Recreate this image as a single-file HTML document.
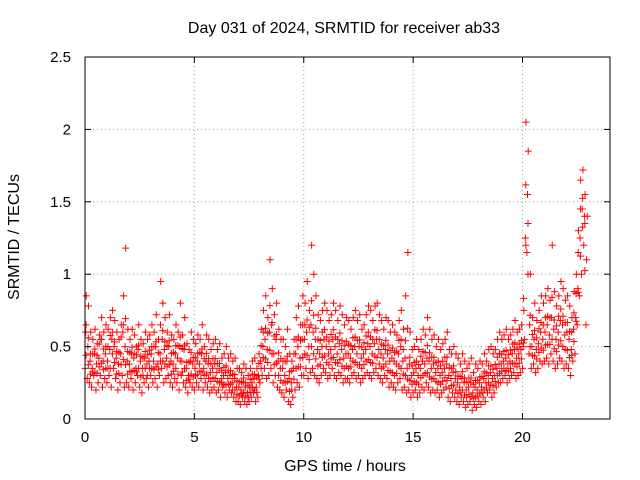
<!DOCTYPE html>
<html><head><meta charset="utf-8"><style>
body{margin:0;background:#fff;}
svg{display:block;font-family:"Liberation Sans",sans-serif;}
</style></head><body>
<svg id="chart" width="640" height="480" xmlns="http://www.w3.org/2000/svg">
<rect width="640" height="480" fill="#fff"/>
<g id="grid"></g>
<g id="pts"></g>
<rect x="85" y="57" width="525" height="362" fill="none" stroke="#000" stroke-width="1"/>
<g id="ticks" font-size="15" fill="#000"></g>
<text x="344" y="33" font-size="16" text-anchor="middle">Day 031 of 2024, SRMTID for receiver ab33</text>
<text x="345" y="471" font-size="16" text-anchor="middle">GPS time / hours</text>
<text x="0" y="0" font-size="16" text-anchor="middle" transform="translate(19,237) rotate(-90)">SRMTID / TECUs</text>
</svg>
<script>
const xTicks=[0,5,10,15,20];
const yTicks=[0,0.5,1,1.5,2,2.5];
const yTickLabels=["0","0.5","1","1.5","2","2.5"];
const tStart=0, tStep=0.1;
const sLow=[.35,.28,.25,.22,.30,.20,.25,.30,.22,.28,.25,.30,.22,.35,.28,.20,.25,.30,.22,.25,.22,.28,.20,.25,.30,.22,.18,.25,.28,.22,.30,.25,.28,.22,.30,.35,.25,.28,.30,.25,.22,.28,.25,.20,.30,.25,.22,.18,.25,.22,.20,.25,.22,.28,.20,.25,.22,.18,.20,.22,.18,.20,.15,.22,.18,.15,.20,.18,.15,.12,.12,.10,.15,.12,.10,.12,.15,.18,.12,.15,.25,.30,.35,.28,.30,.35,.25,.30,.22,.20,.18,.15,.20,.12,.10,.15,.20,.25,.22,.30,.30,.35,.28,.32,.35,.30,.28,.25,.30,.35,.32,.28,.30,.35,.30,.28,.32,.30,.25,.28,.28,.25,.30,.32,.28,.30,.25,.28,.30,.32,.30,.28,.32,.35,.30,.28,.25,.30,.28,.22,.25,.22,.20,.25,.28,.20,.22,.18,.20,.15,.18,.20,.15,.18,.22,.20,.25,.22,.18,.20,.18,.20,.15,.18,.20,.22,.15,.12,.18,.15,.12,.10,.15,.12,.08,.10,.12,.06,.10,.08,.12,.10,.15,.12,.18,.20,.15,.18,.22,.25,.25,.28,.30,.25,.28,.30,.32,.28,.30,.32,.35,.55,1.15,.45,.35,.38,.32,.35,.40,.38,.40,.42,.38,.45,.40,.35,.38,.42,.40,.35,.38,.35,.30,.40,.45,.65,.85,1.0,1.2,.65];
const sMid=[.60,.50,.40,.35,.45,.38,.42,.55,.40,.45,.40,.48,.55,.50,.42,.38,.45,.60,.50,.40,.38,.45,.42,.35,.48,.40,.35,.42,.38,.40,.45,.40,.50,.38,.45,.55,.48,.42,.50,.40,.38,.45,.42,.50,.40,.48,.35,.30,.40,.38,.35,.40,.38,.45,.35,.40,.38,.32,.35,.38,.32,.35,.28,.30,.32,.28,.30,.25,.28,.22,.22,.20,.25,.22,.18,.22,.25,.28,.22,.30,.40,.50,.55,.48,.60,.65,.45,.55,.40,.35,.35,.30,.40,.28,.25,.35,.45,.50,.42,.55,.55,.60,.50,.65,.60,.55,.48,.45,.50,.55,.50,.45,.48,.55,.50,.45,.52,.48,.42,.45,.45,.42,.48,.50,.45,.50,.42,.45,.48,.52,.50,.45,.52,.55,.48,.45,.42,.48,.45,.40,.42,.40,.38,.45,.50,.40,.42,.35,.38,.30,.32,.35,.30,.35,.40,.38,.42,.40,.35,.38,.32,.35,.30,.32,.35,.38,.30,.28,.32,.28,.25,.22,.28,.25,.20,.22,.25,.18,.22,.20,.25,.22,.28,.25,.30,.32,.28,.30,.35,.38,.38,.40,.42,.38,.40,.45,.48,.42,.45,.48,.50,1.25,1.55,.65,.50,.55,.48,.52,.60,.55,.60,.65,.58,.70,.62,.55,.60,.68,.65,.58,.60,.55,.48,.62,.70,.90,1.25,1.45,1.40,1.10];
const sHigh=[.85,.78,.60,.55,.62,.52,.58,.70,.60,.65,.62,.70,.75,.68,.60,.55,.65,.85,1.18,.62,.55,.62,.58,.50,.65,.55,.52,.60,.55,.58,.65,.60,.72,.55,.95,.80,.70,.60,.72,.58,.55,.65,.60,.80,.58,.70,.52,.48,.60,.55,.52,.58,.55,.65,.50,.58,.55,.48,.52,.55,.48,.52,.42,.45,.50,.42,.45,.40,.42,.35,.35,.32,.38,.35,.30,.35,.40,.42,.35,.45,.62,.75,.85,.70,1.10,.90,.72,.80,.62,.55,.55,.50,.62,.45,.40,.55,.70,.78,.65,.85,.80,.95,.75,1.20,1.00,.85,.72,.68,.75,.80,.75,.68,.72,.80,.75,.68,.78,.72,.65,.70,.68,.62,.70,.75,.68,.72,.62,.65,.72,.78,.75,.68,.78,.80,.72,.68,.62,.70,.68,.60,.65,.60,.58,.68,.75,.62,.85,1.15,.60,.48,.50,.55,.48,.55,.62,.58,.70,.62,.55,.58,.50,.55,.48,.52,.55,.60,.48,.45,.50,.45,.42,.38,.45,.40,.35,.38,.42,.32,.38,.35,.40,.38,.45,.40,.48,.50,.45,.48,.55,.60,.55,.58,.62,.55,.58,.62,.68,.60,.62,.65,.75,2.05,1.85,1.00,.70,.80,.68,.75,.85,.80,.85,.90,.82,1.20,.88,.78,.85,.95,.90,.82,.85,.78,.70,.88,1.00,1.30,1.65,1.72,1.55,1.40];
const NS="http://www.w3.org/2000/svg";
const X0=85,X1=610,Y0=419,Y1=57,XMAX=24,YMAX=2.5;
function xs(v){return X0+(X1-X0)*v/XMAX;}
function ys(v){return Y0-(Y0-Y1)*v/YMAX;}
function mk(tag,attrs,parent){const e=document.createElementNS(NS,tag);for(const k in attrs)e.setAttribute(k,attrs[k]);parent.appendChild(e);return e;}
const grid=document.getElementById('grid'),ticks=document.getElementById('ticks'),pts=document.getElementById('pts');
xTicks.forEach(v=>{const x=xs(v);
 if(v>0){const g=mk('line',{x1:x,y1:Y0,x2:x,y2:Y1,stroke:'#a0a0a0','stroke-dasharray':'1,3'},grid);
 
 }
 const t=mk('line',{x1:x,y1:Y0,x2:x,y2:Y0-6,stroke:'#000'},ticks);
 
 
 mk('line',{x1:x,y1:Y1,x2:x,y2:Y1+6,stroke:'#000'},ticks);
 const l=mk('text',{x:x,y:Y0+23,'text-anchor':'middle'},ticks);l.textContent=String(v);
 
 
});
yTicks.forEach((v,i)=>{const y=ys(v);
 if(v>0&&v<YMAX){const g=mk('line',{x1:X0,y1:y,x2:X1,y2:y,stroke:'#a0a0a0','stroke-dasharray':'1,3'},grid);
 
 }
 const t=mk('line',{x1:X0,y1:y,x2:X0+6,y2:y,stroke:'#000'},ticks);
 
 
 mk('line',{x1:X1,y1:y,x2:X1-6,y2:y,stroke:'#000'},ticks);
 const l=mk('text',{x:X0-14,y:y+5,'text-anchor':'end'},ticks);l.textContent=yTickLabels[i];
 
 
});
function plus(t,v){const x=xs(t),y=ys(v);
 const p=mk('path',{d:`M${x-3.5} ${y}h7M${x} ${y-3.5}v7`,stroke:'#ff0000','stroke-width':1,fill:'none'},pts);
 
 }
[sLow,sMid,sHigh].forEach((s,k)=>{s.forEach((v,i)=>{plus(tStart+i*tStep+k*0.03,v);});});
sMid.forEach((v,i)=>{if(i+1<sMid.length)plus(tStart+(i+0.5)*tStep,(v+sLow[i+1])/2);});
sHigh.forEach((v,i)=>{if(i+1<sHigh.length)plus(tStart+(i+0.5)*tStep,(sMid[i]+sMid[i+1]+v)/3);});
</script>
</body></html>
